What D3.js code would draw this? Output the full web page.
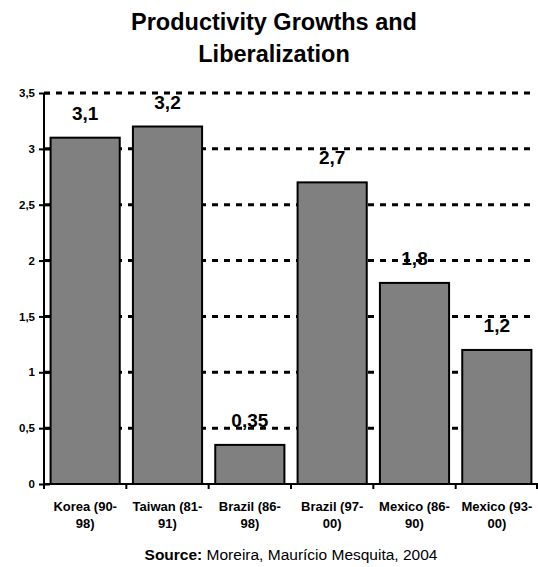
<!DOCTYPE html>
<html><head><meta charset="utf-8">
<script src="https://cdn.jsdelivr.net/npm/d3@7"></script>
<style>body{margin:0;background:#fff}svg{display:block}</style>
</head><body>
<svg id="c" width="538" height="567"></svg>
<script>
const categories = [["Korea (90-","98)"],["Taiwan (81-","91)"],["Brazil (86-","98)"],["Brazil (97-","00)"],["Mexico (86-","90)"],["Mexico (93-","00)"]];
const values = [3.1, 3.2, 0.35, 2.7, 1.8, 1.2];
const valueLabels = ["3,1","3,2","0,35","2,7","1,8","1,2"];
const yTicks = [0,0.5,1,1.5,2,2.5,3,3.5];
const yTickLabels = ["0","0,5","1","1,5","2","2,5","3","3,5"];
const titleLines = ["Productivity Growths and","Liberalization"];

const svg = d3.select("#c");
const F = "Arial, 'Liberation Sans', sans-serif";
const m = {left:44, right:0, top:93, bottom:83};
const W = 538, H = 567;
const x = d3.scaleBand().domain(d3.range(values.length)).range([m.left, W-m.right]).paddingInner(0.16).paddingOuter(0.08);
const y = d3.scaleLinear().domain([0,3.5]).range([H-m.bottom, m.top]);

// title
svg.append("text").attr("text-anchor","middle")
  .attr("font-family",F).attr("font-weight","bold").attr("font-size",23.5)
  .selectAll("tspan").data(titleLines).join("tspan")
  .attr("x",274).attr("y",(d,i)=>30+i*32).text(d=>d);

// gridlines
svg.append("g").selectAll("line").data(yTicks.filter(d=>d>0)).join("line")
  .attr("x1",m.left).attr("x2",W-2).attr("y1",d=>y(d)).attr("y2",d=>y(d))
  .attr("stroke","#000").attr("stroke-width",3).attr("stroke-dasharray","6,6");

// bars
svg.append("g").selectAll("rect").data(values).join("rect")
  .attr("x",(d,i)=>x(i)).attr("width",x.bandwidth())
  .attr("y",d=>y(d)).attr("height",d=>y(0)-y(d))
  .attr("fill","#808080").attr("stroke","#000").attr("stroke-width",2);

// value labels
svg.append("g").selectAll("text").data(values).join("text")
  .attr("x",(d,i)=>x(i)+x.bandwidth()/2).attr("y",d=>y(d)-18)
  .attr("text-anchor","middle").attr("font-family",F).attr("font-weight","bold").attr("font-size",19)
  .text((d,i)=>valueLabels[i]);

// y axis
const ya = svg.append("g").attr("transform",`translate(${m.left},0)`)
  .call(d3.axisLeft(y).tickValues(yTicks).tickFormat((d,i)=>yTickLabels[i]).tickSize(5).tickPadding(4));
ya.select(".domain").remove();
ya.selectAll(".tick line").attr("x2",6).attr("x1",-5).attr("stroke-width",2);
ya.selectAll("text").attr("font-family",F).attr("font-weight","bold").attr("font-size",11.5).attr("fill","#000");
svg.append("line").attr("x1",m.left).attr("x2",m.left).attr("y1",y(3.5)).attr("y2",y(0)+1)
  .attr("stroke","#000").attr("stroke-width",2);

// x axis
svg.append("line").attr("x1",m.left).attr("x2",W).attr("y1",y(0)).attr("y2",y(0)).attr("stroke","#000").attr("stroke-width",2);
const bnd = d3.range(values.length+1).map(i=>m.left + i*(W-m.left)/values.length);
svg.append("g").selectAll("line").data(bnd).join("line")
  .attr("x1",d=>Math.min(d,W-1)).attr("x2",d=>Math.min(d,W-1)).attr("y1",y(0)).attr("y2",y(0)+5)
  .attr("stroke","#000").attr("stroke-width",2);

svg.append("g").selectAll("text").data(categories).join("text")
  .attr("text-anchor","middle").attr("font-family",F).attr("font-weight","bold").attr("font-size",13)
  .each(function(d,i){
    const cx = x(i)+x.bandwidth()/2;
    d3.select(this).selectAll("tspan").data(d).join("tspan")
      .attr("x",cx).attr("y",(t,j)=>511+j*17).text(t=>t);
  });

// source
const s = svg.append("text").attr("x",291).attr("y",560).attr("text-anchor","middle")
  .attr("font-family",F).attr("font-size",15.5);
s.append("tspan").attr("font-weight","bold").text("Source:");
s.append("tspan").text(" Moreira, Maurício Mesquita, 2004");
</script>
</body></html>
